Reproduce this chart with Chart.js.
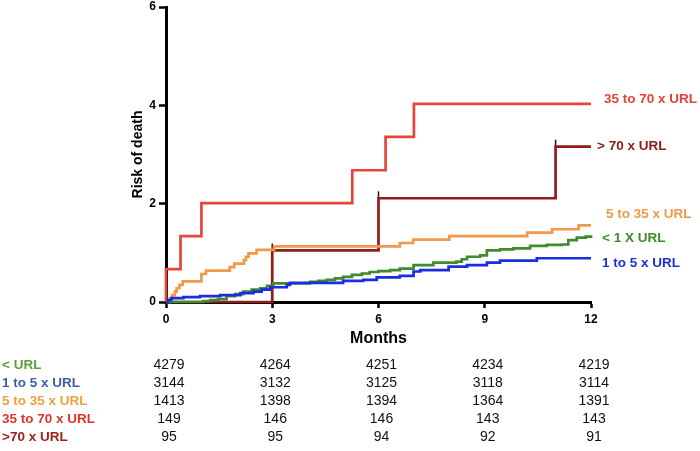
<!DOCTYPE html>
<html>
<head>
<meta charset="utf-8">
<script src="https://cdn.jsdelivr.net/npm/chart.js@4.4.1/dist/chart.umd.min.js"></script>
<style>
    body { margin: 0; background: #fff; }
    #wrap { width: 700px; height: 451px; position: relative; }
</style>
</head>
<body>
<div id="wrap"><canvas id="riskChart"></canvas></div>
<script>
// Cumulative risk of death (%) by month
const redMonths = [0, 0, 0.41, 1.0, 5.26, 6.2, 7.0, 12];
const redRisk = [0, 0.67, 1.34, 2.01, 2.68, 3.36, 4.03, 4.03];

const darkRedMonths = [0, 3, 6, 11, 12];
const darkRedRisk = [0, 1.05, 2.11, 3.16, 3.16];

const orangeMonths = [0, 0.1, 0.17, 0.25, 0.3, 0.38, 0.47, 1.0, 1.13, 1.8, 1.93, 2.2, 2.26, 2.33, 2.56, 3.05, 6.6, 6.98, 8.0, 10.2, 10.9, 11.65, 12];
const orangeRisk = [0, 0.07, 0.14, 0.21, 0.28, 0.35, 0.42, 0.57, 0.64, 0.71, 0.78, 0.85, 0.92, 0.99, 1.06, 1.13, 1.2, 1.27, 1.34, 1.41, 1.48, 1.56, 1.56];

const greenMonths = [0, 1.05, 1.25, 1.47, 1.71, 1.95, 2.18, 2.42, 2.66, 2.85, 3.03, 4.07, 4.3, 4.54, 4.77, 5.0, 5.25, 5.53, 5.75, 6.0, 6.33, 6.6, 6.99, 7.55, 8.2, 8.35, 8.5, 8.87, 9.06, 9.43, 9.81, 10.28, 10.75, 11.18, 11.36, 11.6, 11.85, 12];
const greenRisk = [0, 0.02, 0.04, 0.06, 0.12, 0.16, 0.21, 0.25, 0.28, 0.33, 0.38, 0.41, 0.43, 0.45, 0.48, 0.51, 0.55, 0.58, 0.61, 0.63, 0.65, 0.68, 0.75, 0.8, 0.82, 0.87, 0.92, 0.95, 1.05, 1.07, 1.09, 1.14, 1.16, 1.17, 1.26, 1.31, 1.33, 1.36];

const blueMonths = [0, 0.05, 0.15, 0.49, 0.96, 1.53, 2.1, 2.47, 2.7, 2.94, 3.41, 3.5, 5.0, 5.57, 5.95, 6.6, 6.99, 7.18, 7.98, 8.5, 9.06, 9.43, 10.47, 12];
const blueRisk = [0, 0.04, 0.08, 0.1, 0.12, 0.14, 0.18, 0.21, 0.25, 0.3, 0.35, 0.39, 0.43, 0.45, 0.5, 0.53, 0.62, 0.65, 0.72, 0.75, 0.8, 0.84, 0.89, 0.89];

// censor marks on the > 70 x URL curve
const censorMonths = [3, 6, 11];
const censorRisk = [1.12, 2.18, 3.23];

// End-of-line labels
const lineLabels = ['35 to 70 x URL', '> 70 x URL', '5 to 35 x URL', '< 1 X URL', '1 to 5 x URL'];

// Number at risk table
const tableMonths = [0, 3, 6, 9, 12];
const tableGroups = ['< URL', '1 to 5 x URL', '5 to 35 x URL', '35 to 70 x URL', '>70 x URL'];
const atRiskLess = [4279, 4264, 4251, 4234, 4219];
const atRisk1to5 = [3144, 3132, 3125, 3118, 3114];
const atRisk5to35 = [1413, 1398, 1394, 1364, 1391];
const atRisk35to70 = [149, 146, 146, 143, 143];
const atRiskOver70 = [95, 95, 94, 92, 91];

function toPoints(xs, ys) {
    return xs.map((x, i) => ({ x: x, y: ys[i] }));
}

function stepLine(label, xs, ys, color) {
    return {
        label: label,
        data: toPoints(xs, ys),
        borderColor: color,
        borderWidth: 2.7,
        stepped: 'before',
        pointRadius: 0,
        fill: false,
        clip: 4
    };
}

// labels at the right end of each curve
const endLabelPlugin = {
    id: 'endLabels',
    afterDatasetsDraw(chart) {
        const ctx = chart.ctx;
        const x = chart.scales.x;
        const y = chart.scales.y;
        const items = [
            { text: lineLabels[0], v: redRisk[redRisk.length - 1], dx: 13, dy: -5, color: '#e0433a' },
            { text: lineLabels[1], v: darkRedRisk[darkRedRisk.length - 1], dx: 6, dy: 0, color: '#8c1c1a' },
            { text: lineLabels[2], v: orangeRisk[orangeRisk.length - 1], dx: 15, dy: -11, color: '#ee9a48' },
            { text: lineLabels[3], v: greenRisk[greenRisk.length - 1], dx: 11, dy: 3, color: '#3d8a2e' },
            { text: lineLabels[4], v: blueRisk[blueRisk.length - 1], dx: 11, dy: 5, color: '#1c30d8' }
        ];
        ctx.save();
        ctx.font = 'bold 13.5px "Liberation Sans", Arial, sans-serif';
        ctx.textBaseline = 'middle';
        ctx.textAlign = 'left';
        const right = x.getPixelForValue(12);
        items.forEach(it => {
            ctx.fillStyle = it.color;
            ctx.fillText(it.text, right + it.dx, y.getPixelForValue(it.v) + it.dy);
        });
        ctx.restore();
    }
};

// number-at-risk table below the axis
const tablePlugin = {
    id: 'riskTable',
    afterDraw(chart) {
        const ctx = chart.ctx;
        const x = chart.scales.x;
        const rows = [atRiskLess, atRisk1to5, atRisk5to35, atRisk35to70, atRiskOver70];
        const colors = ['#5b9e3c', '#3f5ca6', '#eea043', '#d9372c', '#a0231a'];
        const rowY = [365, 383, 401, 419, 437];
        ctx.save();
        ctx.textBaseline = 'middle';
        rows.forEach((row, r) => {
            ctx.font = 'bold 13.5px "Liberation Sans", Arial, sans-serif';
            ctx.textAlign = 'left';
            ctx.fillStyle = colors[r];
            ctx.fillText(tableGroups[r], 2, rowY[r]);
            ctx.font = '14px "Liberation Sans", Arial, sans-serif';
            ctx.textAlign = 'center';
            ctx.fillStyle = '#111';
            row.forEach((n, i) => {
                ctx.fillText(String(n), x.getPixelForValue(tableMonths[i]) + 3, rowY[r]);
            });
        });
        ctx.restore();
    }
};

const ctx = document.getElementById('riskChart').getContext('2d');
new Chart(ctx, {
    type: 'line',
    data: {
        datasets: [
            stepLine('1 to 5 x URL', blueMonths, blueRisk, '#1a2ee0'),
            stepLine('< 1 X URL', greenMonths, greenRisk, '#3f8b2e'),
            stepLine('5 to 35 x URL', orangeMonths, orangeRisk, '#f0994a'),
            stepLine('> 70 x URL', darkRedMonths, darkRedRisk, '#8e1d1b'),
            stepLine('35 to 70 x URL', redMonths, redRisk, '#e5463c'),
            {
                label: 'censored',
                type: 'scatter',
                data: toPoints(censorMonths, censorRisk),
                pointStyle: 'line',
                rotation: 90,
                pointRadius: 3.5,
                borderColor: '#2a1212',
                borderWidth: 1.5,
                showLine: false
            }
        ]
    },
    options: {
        responsive: true,
        maintainAspectRatio: false,
        animation: false,
        layout: { padding: { left: 120, right: 109, top: 7, bottom: 103 } },
        plugins: {
            legend: { display: false },
            tooltip: { enabled: false }
        },
        scales: {
            x: {
                type: 'linear',
                min: 0,
                max: 12,
                afterFit: s => { s.height = 46; },
                ticks: {
                    stepSize: 3,
                    padding: 4,
                    color: '#000',
                    font: { family: '"Liberation Sans", Arial, sans-serif', size: 12, weight: 'bold' }
                },
                grid: { drawOnChartArea: false, tickLength: 6, tickColor: '#000', tickWidth: 2.5 },
                border: { color: '#000', width: 3 },
                title: {
                    display: true,
                    text: 'Months',
                    color: '#000',
                    padding: { top: 0, bottom: 0 },
                    font: { family: '"Liberation Sans", Arial, sans-serif', size: 16, weight: 'bold' }
                }
            },
            y: {
                min: 0,
                max: 6,
                afterFit: s => { s.width = 46; s.paddingTop = 0; },
                ticks: {
                    stepSize: 2,
                    padding: 3,
                    color: '#000',
                    font: { family: '"Liberation Sans", Arial, sans-serif', size: 12, weight: 'bold' }
                },
                grid: { drawOnChartArea: false, tickLength: 7, tickColor: '#000', tickWidth: 2.5 },
                border: { color: '#000', width: 3 },
                title: {
                    display: true,
                    text: 'Risk of death',
                    color: '#000',
                    padding: { top: 10, bottom: 0 },
                    font: { family: '"Liberation Sans", Arial, sans-serif', size: 14, weight: 'bold' }
                }
            }
        }
    },
    plugins: [endLabelPlugin, tablePlugin]
});
</script>
</body>
</html>
